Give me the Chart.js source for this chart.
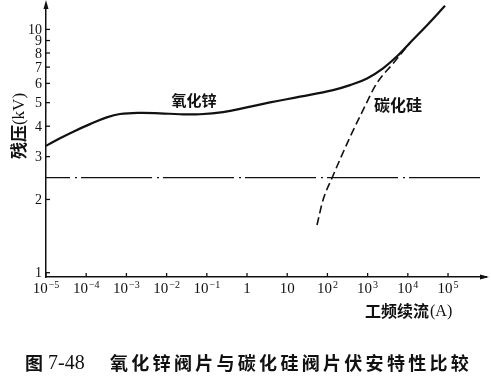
<!DOCTYPE html>
<html>
<head>
<meta charset="utf-8">
<script src="https://cdn.jsdelivr.net/npm/chart.js@4/dist/chart.umd.min.js"></script>
<style>
  html, body { margin: 0; padding: 0; background: #fff; }
  #wrap { width: 491px; height: 382px; }
</style>
</head>
<body>
<div id="wrap"><canvas id="c" width="491" height="382"></canvas></div>
<script>
// ---- data ----
const xTickExps = [-5, -4, -3, -2, -1, 0, 1, 2, 3, 4, 5];
const yTicks = [1, 2, 3, 4, 5, 6, 7, 8, 9, 10];

// 氧化锌 (ZnO) : power-frequency follow current (A) vs residual voltage (kV)
const znoCurrent = [1e-5, 2.23e-5, 4.78e-5, 1.245e-4, 3.24e-4, 6.93e-4, 2.18e-3, 6.86e-3, 2.15e-2, 6.78e-2, 0.253, 0.984, 3.73, 20.8, 138, 365, 966, 2415, 6400, 11350, 30100, 84100];
const znoVoltage = [3.32, 3.57, 3.80, 4.08, 4.35, 4.49, 4.54, 4.52, 4.48, 4.48, 4.57, 4.78, 5.01, 5.29, 5.63, 5.90, 6.29, 6.92, 7.97, 8.81, 10.4, 12.5];

// 碳化硅 (SiC)
const sicCurrent = [55.1, 77.8, 130, 365, 769, 1683, 4290, 11350];
const sicVoltage = [1.57, 1.99, 2.45, 3.61, 4.66, 6.00, 7.24, 8.81];

// horizontal dash-dot reference line
const refCurrent = [1e-5, 7.0e5];
const refVoltage = [2.46, 2.46];

const curveLabels = ['氧化锌', '碳化硅'];
const yTitleCJK = '残压', yTitleLatin = '(kV)';
const xTitleCJK = '工频续流', xTitleLatin = '(A)';
const captionPrefix = '图';
const captionNo = '7-48';
const captionText = '氧化锌阀片与碳化硅阀片伏安特性比较';

const toPts = (xs, ys) => xs.map((x, i) => ({ x: x, y: ys[i] }));

const decor = {
  id: 'decor',
  afterDraw(chart) {
    const ctx = chart.ctx, xs = chart.scales.x, ys = chart.scales.y, a = chart.chartArea;
    ctx.save();
    ctx.strokeStyle = '#111';
    ctx.fillStyle = '#111';
    ctx.lineWidth = 1.3;

    // y ticks (inside) and labels
    ctx.font = "14px 'Liberation Serif'";
    ctx.textAlign = 'right';
    ctx.textBaseline = 'middle';
    yTicks.forEach(v => {
      const py = ys.getPixelForValue(v);
      ctx.beginPath(); ctx.moveTo(a.left, py); ctx.lineTo(a.left + 4, py); ctx.stroke();
      ctx.fillText(String(v), a.left - 4, py + 1);
    });

    // x ticks (inside) and labels with superscripts
    xTickExps.forEach(e => {
      const px = xs.getPixelForValue(Math.pow(10, e));
      ctx.beginPath(); ctx.moveTo(px, a.bottom); ctx.lineTo(px, a.bottom - 4); ctx.stroke();
      ctx.textBaseline = 'alphabetic';
      ctx.textAlign = 'left';
      if (e === 0 || e === 1) {
        const s = e === 0 ? '1' : '10';
        ctx.font = "15px 'Liberation Serif'";
        const w = ctx.measureText(s).width;
        ctx.fillText(s, px - w / 2, a.bottom + 16);
      } else {
        const sup = (e < 0 ? '\u2212' : '') + Math.abs(e);
        ctx.font = "15px 'Liberation Serif'";
        const wb = ctx.measureText('10').width;
        ctx.font = "10px 'Liberation Serif'";
        const ws = ctx.measureText(sup).width;
        const x0 = px - (wb + ws + 1) / 2;
        ctx.font = "15px 'Liberation Serif'";
        ctx.fillText('10', x0, a.bottom + 16);
        ctx.font = "10px 'Liberation Serif'";
        ctx.fillText(sup, x0 + wb + 1, a.bottom + 11);
      }
    });

    // axis arrows
    ctx.beginPath();
    ctx.moveTo(a.right + 3, a.bottom);
    ctx.lineTo(a.right - 6, a.bottom - 2.5);
    ctx.lineTo(a.right - 6, a.bottom + 2.5);
    ctx.closePath(); ctx.fill();
    ctx.beginPath();
    ctx.moveTo(a.left, a.top - 5);
    ctx.lineTo(a.left - 2.5, a.top + 4);
    ctx.lineTo(a.left + 2.5, a.top + 4);
    ctx.closePath(); ctx.fill();

    // curve labels
    ctx.textBaseline = 'middle';
    ctx.textAlign = 'center';
    ctx.font = "bold 15px 'Noto Sans CJK SC'";
    ctx.fillText(curveLabels[0], 194, 100);
    ctx.font = "bold 16px 'Noto Sans CJK SC'";
    ctx.fillText(curveLabels[1], 398, 105);

    // y title (rotated)
    ctx.save();
    ctx.translate(19, 126);
    ctx.rotate(-Math.PI / 2);
    ctx.textAlign = 'left';
    ctx.textBaseline = 'middle';
    ctx.font = "bold 17px 'Noto Sans CJK SC'";
    const w1 = ctx.measureText(yTitleCJK).width;
    ctx.font = "17px 'Liberation Serif'";
    const w2 = ctx.measureText(yTitleLatin).width;
    const sx = -(w1 + w2) / 2;
    ctx.font = "bold 17px 'Noto Sans CJK SC'";
    ctx.fillText(yTitleCJK, sx, 0);
    ctx.font = "17px 'Liberation Serif'";
    ctx.fillText(yTitleLatin, sx + w1, 1);
    ctx.restore();

    // x title
    ctx.textAlign = 'left';
    ctx.textBaseline = 'middle';
    ctx.font = "bold 16px 'Noto Sans CJK SC'";
    const xw1 = ctx.measureText(xTitleCJK).width;
    ctx.fillText(xTitleCJK, 365, 311);
    ctx.font = "16px 'Liberation Serif'";
    ctx.fillText(xTitleLatin, 365 + xw1 + 1, 312);

    // caption
    ctx.font = "bold 18px 'Noto Sans CJK SC'";
    ctx.fillText(captionPrefix, 25, 363);
    ctx.font = "20px 'Liberation Serif'";
    ctx.fillText(captionNo, 48, 364);
    ctx.font = "bold 18px 'Noto Sans CJK SC'";
    Array.from(captionText).forEach((ch, i) => ctx.fillText(ch, 110 + i * 21.3, 363));

    ctx.restore();
  }
};

new Chart(document.getElementById('c'), {
  type: 'scatter',
  data: {
    datasets: [
      {
        data: toPts(znoCurrent, znoVoltage),
        showLine: true, borderColor: '#111', borderWidth: 2.2,
        pointRadius: 0, tension: 0.4, fill: false
      },
      {
        data: toPts(sicCurrent, sicVoltage),
        showLine: true, borderColor: '#111', borderWidth: 1.6, borderDash: [8, 4],
        pointRadius: 0, cubicInterpolationMode: 'monotone', fill: false
      },
      {
        data: toPts(refCurrent, refVoltage),
        showLine: true, borderColor: '#111', borderWidth: 1.4,
        borderDash: [71, 5, 2, 4], borderDashOffset: 47,
        pointRadius: 0, fill: false
      }
    ]
  },
  options: {
    responsive: false,
    animation: false,
    devicePixelRatio: 1,
    layout: { padding: { top: 5, right: 5, left: 0, bottom: 0 } },
    plugins: { legend: { display: false }, tooltip: { enabled: false }, title: { display: false } },
    scales: {
      x: {
        type: 'logarithmic', min: 1e-5, max: 8.8e5, position: 'bottom',
        grid: { display: false, drawTicks: false },
        border: { display: true, color: '#111', width: 1.5 },
        ticks: { display: false },
        afterFit(s) { s.height = 105; }
      },
      y: {
        type: 'logarithmic', min: 0.96, max: 12.6, position: 'left',
        grid: { display: false, drawTicks: false },
        border: { display: true, color: '#111', width: 1.5 },
        ticks: { display: false },
        afterFit(s) { s.width = 46; }
      }
    }
  },
  plugins: [decor]
});
</script>
</body>
</html>
